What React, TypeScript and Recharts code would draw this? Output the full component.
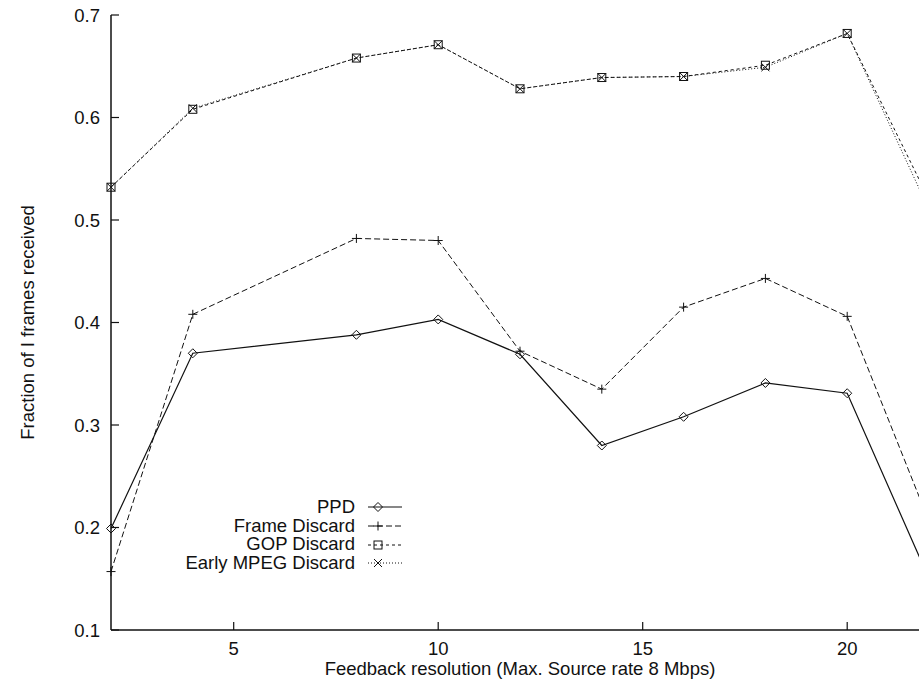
import { LineChart, Line, XAxis, YAxis, Legend } from 'recharts'

const feedback = [2, 4, 8, 10, 12, 14, 16, 18, 20, 22]
const ppd = [0.199, 0.370, 0.388, 0.403, 0.369, 0.280, 0.308, 0.341, 0.331, 0.150]
const frameDiscard = [0.157, 0.408, 0.482, 0.480, 0.372, 0.335, 0.415, 0.443, 0.406, 0.206]
const gopDiscard = [0.532, 0.608, 0.658, 0.671, 0.628, 0.639, 0.640, 0.651, 0.682, 0.520]
const earlyMpegDiscard = [0.532, 0.609, 0.658, 0.671, 0.628, 0.639, 0.640, 0.649, 0.682, 0.510]

const xTicks = [5, 10, 15, 20]
const yTicks = [0.1, 0.2, 0.3, 0.4, 0.5, 0.6, 0.7]

const data = feedback.map((f, i) => ({
  f,
  ppd: ppd[i],
  frame: frameDiscard[i],
  gop: gopDiscard[i],
  early: earlyMpegDiscard[i],
}))

const FONT = '"Liberation Sans", Arial, Helvetica, sans-serif'
const FS = 18.5
const INK = '#111'

type MarkerFn = (cx: number, cy: number) => JSX.Element

const diamond: MarkerFn = (cx, cy) => (
  <polygon
    points={`${cx},${cy - 4.5} ${cx + 4.5},${cy} ${cx},${cy + 4.5} ${cx - 4.5},${cy}`}
    fill="none" stroke={INK} strokeWidth={1}
  />
)
const plus: MarkerFn = (cx, cy) => (
  <g stroke={INK} strokeWidth={1}>
    <line x1={cx - 4.5} y1={cy} x2={cx + 4.5} y2={cy} />
    <line x1={cx} y1={cy - 4.5} x2={cx} y2={cy + 4.5} />
  </g>
)
const square: MarkerFn = (cx, cy) => (
  <rect x={cx - 4} y={cy - 4} width={8} height={8} fill="none" stroke={INK} strokeWidth={1} />
)
const cross: MarkerFn = (cx, cy) => (
  <g stroke={INK} strokeWidth={1}>
    <line x1={cx - 4} y1={cy - 4} x2={cx + 4} y2={cy + 4} />
    <line x1={cx - 4} y1={cy + 4} x2={cx + 4} y2={cy - 4} />
  </g>
)

const series = [
  { key: 'ppd', name: 'PPD', dash: undefined as string | undefined, width: 1.2, marker: diamond },
  { key: 'frame', name: 'Frame Discard', dash: '6 3', width: 1, marker: plus },
  { key: 'gop', name: 'GOP Discard', dash: '3 3', width: 1, marker: square },
  { key: 'early', name: 'Early MPEG Discard', dash: '1 2', width: 1, marker: cross },
]

const makeDot = (key: string, marker: MarkerFn) => (props: any) => {
  const { cx, cy, index } = props
  if (cx == null || cy == null) return <g key={`${key}-${index}`} />
  return <g key={`${key}-${index}`}>{marker(cx, cy)}</g>
}

const BottomTick = (props: any) => {
  const { x, y, payload } = props
  return (
    <g>
      <line x1={x} y1={y} x2={x} y2={y - 8} stroke={INK} strokeWidth={1.2} />
      <text x={x} y={y + 25} textAnchor="middle" fontSize={FS} fontFamily={FONT} fill={INK}>
        {payload.value}
      </text>
    </g>
  )
}

const TopTick = (props: any) => {
  const { x, y } = props
  return <line x1={x} y1={y} x2={x} y2={y + 8} stroke={INK} strokeWidth={1.2} />
}

const LeftTick = (props: any) => {
  const { x, y, payload } = props
  return (
    <g>
      <line x1={x} y1={y} x2={x + 8} y2={y} stroke={INK} strokeWidth={1.2} />
      <text x={x - 11} y={y} dy="0.36em" textAnchor="end" fontSize={FS} fontFamily={FONT} fill={INK}>
        {Number(payload.value).toFixed(1)}
      </text>
    </g>
  )
}

const renderLegend = () => (
  <div style={{ fontFamily: FONT, fontSize: FS, color: INK }}>
    {series.map((s) => (
      <div key={s.key} style={{ display: 'flex', alignItems: 'center', height: 18.7 }}>
        <div style={{ width: 250, textAlign: 'right', lineHeight: '18.7px' }}>{s.name}</div>
        <svg width={34} height={12} style={{ marginLeft: 13, overflow: 'visible' }}>
          <line x1={0} y1={6} x2={34} y2={6} stroke={INK} strokeWidth={s.width} strokeDasharray={s.dash} />
          {s.marker(10, 6)}
        </svg>
      </div>
    ))}
  </div>
)

export default function App() {
  return (
    <div
      style={{
        position: 'absolute', left: 0, top: 0, width: 919, height: 681,
        overflow: 'hidden', background: '#fff',
      }}
    >
      <LineChart width={960} height={681} data={data} margin={{ top: 15, right: 31, left: 0, bottom: 0 }}>
        <XAxis
          dataKey="f"
          type="number"
          domain={[2, 22]}
          ticks={xTicks}
          height={51}
          tickSize={0}
          tickMargin={0}
          axisLine={{ stroke: INK, strokeWidth: 1.5 }}
          tickLine={false}
          tick={<BottomTick />}
          interval={0}
          label={{
            content: (p: any) => {
              const vb = p.viewBox
              return (
                <text x={vb.x + vb.width / 2} y={vb.y + 45} textAnchor="middle" fontSize={FS} fontFamily={FONT} fill={INK}>
                  Feedback resolution (Max. Source rate 8 Mbps)
                </text>
              )
            },
          }}
        />
        <XAxis
          xAxisId="top"
          orientation="top"
          dataKey="f"
          type="number"
          domain={[2, 22]}
          ticks={xTicks}
          height={0}
          tickSize={0}
          tickMargin={0}
          axisLine={{ stroke: INK, strokeWidth: 1.5 }}
          tickLine={false}
          tick={<TopTick />}
          interval={0}
        />
        <YAxis
          type="number"
          domain={[0.1, 0.7]}
          ticks={yTicks}
          width={111}
          tickSize={0}
          tickMargin={0}
          axisLine={{ stroke: INK, strokeWidth: 1.5 }}
          tickLine={false}
          tick={<LeftTick />}
          interval={0}
          label={{
            content: (p: any) => {
              const vb = p.viewBox
              const cx = 27
              const cy = vb.y + vb.height / 2
              return (
                <text x={cx} y={cy} transform={`rotate(-90 ${cx} ${cy})`} textAnchor="middle" dy="0.36em"
                  fontSize={FS} fontFamily={FONT} fill={INK}>
                  Fraction of I frames received
                </text>
              )
            },
          }}
        />
        <Legend
          layout="vertical"
          align="center"
          verticalAlign="middle"
          content={renderLegend}
          wrapperStyle={{ left: 105, top: 498, width: 300 }}
        />
        {series.map((s) => (
          <Line
            key={s.key}
            dataKey={s.key}
            name={s.name}
            type="linear"
            stroke={INK}
            strokeWidth={s.width}
            strokeDasharray={s.dash}
            dot={makeDot(s.key, s.marker)}
            activeDot={false}
            isAnimationActive={false}
          />
        ))}
      </LineChart>
    </div>
  )
}
